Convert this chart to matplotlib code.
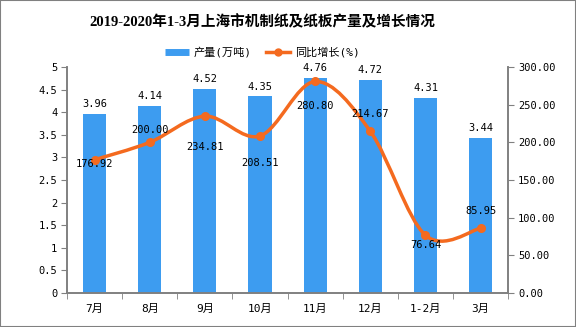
import matplotlib
matplotlib.use("Agg")
from matplotlib import pyplot as plt
from matplotlib.path import Path
from matplotlib.patches import PathPatch, Rectangle
from matplotlib.lines import Line2D
from matplotlib.ticker import FuncFormatter

plt.rcParams['font.family'] = ['DejaVu Sans Mono', 'Noto Sans CJK SC']

months = ['7月', '8月', '9月', '10月', '11月', '12月', '1-2月', '3月']
output = [3.96, 4.14, 4.52, 4.35, 4.76, 4.72, 4.31, 3.44]
growth = [176.92, 200.00, 234.81, 208.51, 280.80, 214.67, 76.64, 85.95]
# pixel offsets of the growth labels (up is positive)
growth_offsets = [-4, 12, -31, -27, -25, 17, -10, 17]

BLUE = '#3d9cf0'
ORANGE = '#f46a1f'
GRAY = '#808080'


def smooth_path(xs, ys):
    """Bezier path through the points, like the spreadsheet's smoothed line."""
    verts = [(xs[0], ys[0])]
    codes = [Path.MOVETO]
    n = len(xs)
    for i in range(n - 1):
        x0, y0 = (xs[i - 1], ys[i - 1]) if i > 0 else (xs[i], ys[i])
        x1, y1 = xs[i], ys[i]
        x2, y2 = xs[i + 1], ys[i + 1]
        x3, y3 = (xs[i + 2], ys[i + 2]) if i + 2 < n else (x2, y2)
        c1 = (x1 + (x2 - x0) / 6, y1 + (y2 - y0) / 6)
        c2 = (x2 - (x3 - x1) / 6, y2 - (y3 - y1) / 6)
        verts += [c1, c2, (x2, y2)]
        codes += [Path.CURVE4] * 3
    return Path(verts, codes)


fig = plt.figure(figsize=(5.76, 3.27), dpi=100)
ax = fig.add_axes([0.1163, 0.104, 0.766, 0.691])
ax2 = ax.twinx()

x = list(range(len(months)))
ax.bar(x, output, width=0.42, color=BLUE, zorder=2)
for xi, v in zip(x, output):
    ax.annotate(f'{v:.2f}', (xi, v), xytext=(0, 3.5), textcoords='offset points',
                ha='center', va='bottom', fontsize=7.5)

ax2.add_patch(PathPatch(smooth_path(x, growth), fill=False, edgecolor=ORANGE,
                        linewidth=2.5, zorder=3))
ax2.plot(x, growth, linestyle='none', marker='o', markersize=5.5, color=ORANGE, zorder=4)
for xi, v, off in zip(x, growth, growth_offsets):
    ax2.annotate(f'{v:.2f}', (xi, v), xytext=(0, off * 0.72), textcoords='offset points',
                 ha='center', va='center', fontsize=7.5, zorder=5)

ax.set_xlim(-0.5, len(months) - 0.5)
ax.set_ylim(0, 5)
ax2.set_ylim(0, 300)
ax.set_yticks([i * 0.5 for i in range(11)])
ax.yaxis.set_major_formatter(FuncFormatter(lambda v, p: f'{v:g}'))
ax2.set_yticks(range(0, 301, 50))
ax2.yaxis.set_major_formatter(FuncFormatter(lambda v, p: f'{v:.2f}'))

ax.set_xticks(x)
ax.set_xticklabels(months)
ax.set_xticks([i - 0.5 for i in range(len(months) + 1)], minor=True)
ax.tick_params(axis='x', which='major', length=0, pad=8, labelsize=8)
ax.tick_params(axis='x', which='minor', length=4, color=GRAY)
ax.tick_params(axis='y', length=4, color=GRAY, labelsize=7.5, pad=3)
ax2.tick_params(axis='y', length=4, color=GRAY, labelsize=7.5, pad=3)

for a in (ax, ax2):
    a.spines['top'].set_visible(False)
    for s in ('left', 'right', 'bottom'):
        a.spines[s].set_color(GRAY)
        a.spines[s].set_linewidth(1.2)

fig.text(0.455, 0.933, '2019-2020年1-3月上海市机制纸及纸板产量及增长情况',
         ha='center', va='center', fontsize=10.5, fontweight='bold',
         family=['Liberation Serif', 'Noto Sans CJK SC'])

handles = [Line2D([], [], color=BLUE, linewidth=5, solid_capstyle='butt'),
           Line2D([], [], color=ORANGE, linewidth=2.5, marker='o', markersize=5)]
fig.legend(handles, ['产量(万吨)', '同比增长(%)'], loc='center', bbox_to_anchor=(0.455, 0.84),
           ncol=2, frameon=False, fontsize=8, handlelength=2.2, columnspacing=1.3,
           handletextpad=0.4)

fig.patches.append(Rectangle((0, 0), 1, 1, transform=fig.transFigure, fill=False,
                             edgecolor=GRAY, linewidth=1.5))

fig.savefig('out.png', dpi=100)
